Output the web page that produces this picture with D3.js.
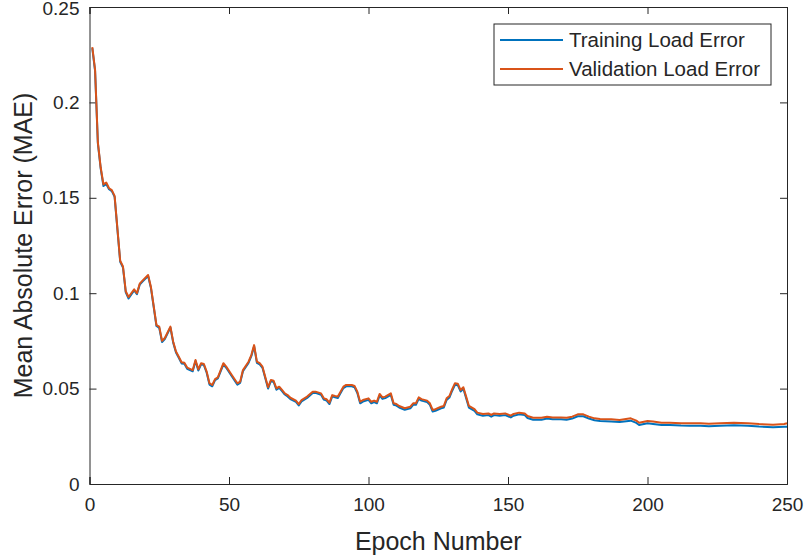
<!DOCTYPE html>
<html>
<head>
<meta charset="utf-8">
<script src="https://cdn.jsdelivr.net/npm/d3@7"></script>
<style>
  html, body { margin:0; padding:0; background:#fff; }
  svg text { font-family: "Liberation Sans", Arial, Helvetica, sans-serif; fill:#262626; }
</style>
</head>
<body>
<svg id="chart" width="805" height="557"></svg>
<script>
/* ----- data ------------------------------------------------- */
const epochs = [1,2,3,4,5,6,7,8,9,10,11,12,13,14,16,17,18,19,21,22,24,25,26,27,29,30,31,32,33,34,35,37,38,39,40,41,42,43,44,45,46,48,49,51,53,54,55,57,58,59,60,61,62,64,65,66,67,68,69,70,71,72,74,75,76,78,80,81,83,84,85,86,87,88,89,91,92,94,95,96,97,98,100,101,102,103,104,105,106,108,109,110,111,113,115,116,117,118,119,121,122,123,124,126,127,128,129,130,131,132,133,134,135,136,138,139,141,143,144,145,147,149,151,152,154,156,157,159,162,164,166,169,171,173,175,177,179,181,183,187,190,194,196,197,200,202,205,208,212,215,219,222,226,231,236,240,245,249,250];

const validationErr = [0.229,0.217,0.179,0.166,0.157,0.158,0.155,0.154,0.151,0.134,0.117,0.114,0.101,0.098,0.102,0.100,0.105,0.1066,0.1095,0.1034,0.0833,0.0825,0.0750,0.0765,0.0825,0.0746,0.0694,0.0667,0.0638,0.0636,0.0610,0.0597,0.0650,0.0601,0.0633,0.0629,0.0589,0.0528,0.0519,0.0550,0.0559,0.0633,0.0615,0.0571,0.0528,0.0536,0.0597,0.0641,0.0676,0.0728,0.0641,0.0633,0.0615,0.0507,0.0545,0.0541,0.0501,0.0510,0.0493,0.0475,0.0466,0.0452,0.0437,0.0419,0.0440,0.0458,0.0484,0.0484,0.0475,0.0449,0.0444,0.0426,0.0466,0.0461,0.0458,0.0510,0.0519,0.0519,0.0514,0.0484,0.0431,0.0440,0.0449,0.0431,0.0437,0.0431,0.0472,0.0454,0.0458,0.0475,0.0423,0.0419,0.0409,0.0397,0.0405,0.0423,0.0423,0.0454,0.0445,0.0437,0.0423,0.0388,0.0392,0.0405,0.0409,0.0449,0.0461,0.0497,0.0528,0.0526,0.0493,0.0507,0.0458,0.0409,0.0392,0.0374,0.0367,0.0370,0.0362,0.0370,0.0367,0.0370,0.0358,0.0367,0.0374,0.0370,0.0356,0.0347,0.0347,0.0353,0.0349,0.0349,0.0347,0.0353,0.0365,0.0365,0.0353,0.0344,0.0341,0.0339,0.0336,0.0344,0.0332,0.0321,0.0330,0.0327,0.0321,0.0321,0.0318,0.0318,0.0318,0.0316,0.0318,0.0321,0.0318,0.0314,0.0311,0.0314,0.0318];

const trainingErr = [0.2285,0.2165,0.1785,0.1655,0.1562,0.1572,0.1545,0.1535,0.1505,0.1335,0.1165,0.1135,0.1004,0.0972,0.1015,0.0995,0.1045,0.1061,0.1090,0.1029,0.0828,0.0818,0.0744,0.0760,0.0820,0.0741,0.0689,0.0662,0.0632,0.0630,0.0604,0.0591,0.0645,0.0595,0.0627,0.0623,0.0583,0.0521,0.0512,0.0544,0.0553,0.0627,0.0609,0.0565,0.0521,0.0530,0.0591,0.0635,0.0670,0.0722,0.0635,0.0627,0.0609,0.0500,0.0539,0.0535,0.0494,0.0504,0.0487,0.0469,0.0459,0.0445,0.0430,0.0412,0.0433,0.0451,0.0477,0.0478,0.0468,0.0442,0.0437,0.0419,0.0459,0.0454,0.0451,0.0503,0.0512,0.0512,0.0507,0.0477,0.0423,0.0432,0.0441,0.0423,0.0429,0.0423,0.0464,0.0446,0.0450,0.0467,0.0415,0.0411,0.0401,0.0389,0.0397,0.0415,0.0415,0.0446,0.0437,0.0429,0.0415,0.0380,0.0384,0.0397,0.0401,0.0441,0.0453,0.0489,0.0520,0.0518,0.0485,0.0499,0.0450,0.0400,0.0383,0.0365,0.0358,0.0361,0.0353,0.0361,0.0358,0.0361,0.0349,0.0358,0.0365,0.0361,0.0346,0.0337,0.0337,0.0343,0.0339,0.0339,0.0337,0.0343,0.0355,0.0355,0.0343,0.0334,0.0330,0.0328,0.0325,0.0332,0.0320,0.0309,0.0318,0.0315,0.0309,0.0309,0.0306,0.0305,0.0305,0.0303,0.0305,0.0308,0.0305,0.0301,0.0298,0.0300,0.0300];

const xTicks = [0,50,100,150,200,250];
const yTicks = [0,0.05,0.1,0.15,0.2,0.25];
const seriesNames = ['Training Load Error','Validation Load Error'];
const seriesColors = ['#0072BD','#D95319'];

/* ----- SVG setup -------------------------------------------- */
const svg = d3.select('#chart'),
      M   = {left:89.5, top:7, right:787, bottom:484},
      ink = '#262626';

const x = d3.scaleLinear().domain([0,250]).range([M.left, M.right]);
const y = d3.scaleLinear().domain([0,0.25]).range([M.bottom, M.top]);

/* ----- axes (MATLAB box, ticks inside) ---------------------- */
const tick = 7;
const axB = svg.append('g').attr('transform',`translate(0,${M.bottom})`)
  .call(d3.axisBottom(x).tickValues(xTicks).tickSize(-tick).tickPadding(14).tickFormat(d3.format('d')));
const axT = svg.append('g').attr('transform',`translate(0,${M.top})`)
  .call(d3.axisTop(x).tickValues(xTicks).tickSize(-tick).tickFormat(''));
const axL = svg.append('g').attr('transform',`translate(${M.left},0)`)
  .call(d3.axisLeft(y).tickValues(yTicks).tickSize(-tick).tickPadding(10).tickFormat(d=>d===0?'0':String(+d.toFixed(2))));
const axR = svg.append('g').attr('transform',`translate(${M.right},0)`)
  .call(d3.axisRight(y).tickValues(yTicks).tickSize(-tick).tickFormat(''));

[axB,axT,axL,axR].forEach(a=>{
  a.select('.domain').attr('stroke',ink).attr('stroke-width',1);
  a.selectAll('.tick line').attr('stroke',ink).attr('stroke-width',1);
  a.selectAll('text').style('font-size','19px').attr('fill',ink);
});
axB.selectAll('text').attr('dy','0.71em');
// keep the top label inside the picture, like the reference
axL.selectAll('text').filter(d=>d===0.25).attr('dy','0.42em');

/* ----- lines ------------------------------------------------ */
const line = vals => d3.line()
  .x((d,i)=>x(epochs[i]))
  .y(d=>y(d))(vals);

[trainingErr, validationErr].forEach((vals,i)=>{
  svg.append('path')
    .attr('d', line(vals))
    .attr('fill','none')
    .attr('stroke', seriesColors[i])
    .attr('stroke-width', 2)
    .attr('stroke-linejoin','round');
});

/* ----- axis labels ------------------------------------------ */
svg.append('text')
  .attr('x',(M.left+M.right)/2).attr('y',550)
  .attr('text-anchor','middle')
  .style('font-size','25px')
  .text('Epoch Number');

svg.append('text')
  .attr('transform',`translate(32,${(M.top+M.bottom)/2}) rotate(-90)`)
  .attr('text-anchor','middle')
  .style('font-size','25px')
  .text('Mean Absolute Error (MAE)');

/* ----- legend ----------------------------------------------- */
const Lg = svg.append('g').attr('transform','translate(494,24)');
Lg.append('rect').attr('width',277).attr('height',61)
  .attr('fill','#fff').attr('stroke',ink).attr('stroke-width',1);
seriesNames.forEach((name,i)=>{
  const ly = 16 + i*29;
  Lg.append('line').attr('x1',6).attr('x2',69).attr('y1',ly).attr('y2',ly)
    .attr('stroke',seriesColors[i]).attr('stroke-width',2);
  Lg.append('text').attr('x',75).attr('y',ly).attr('dy','0.35em')
    .style('font-size','20.5px').text(name);
});
</script>
</body>
</html>
